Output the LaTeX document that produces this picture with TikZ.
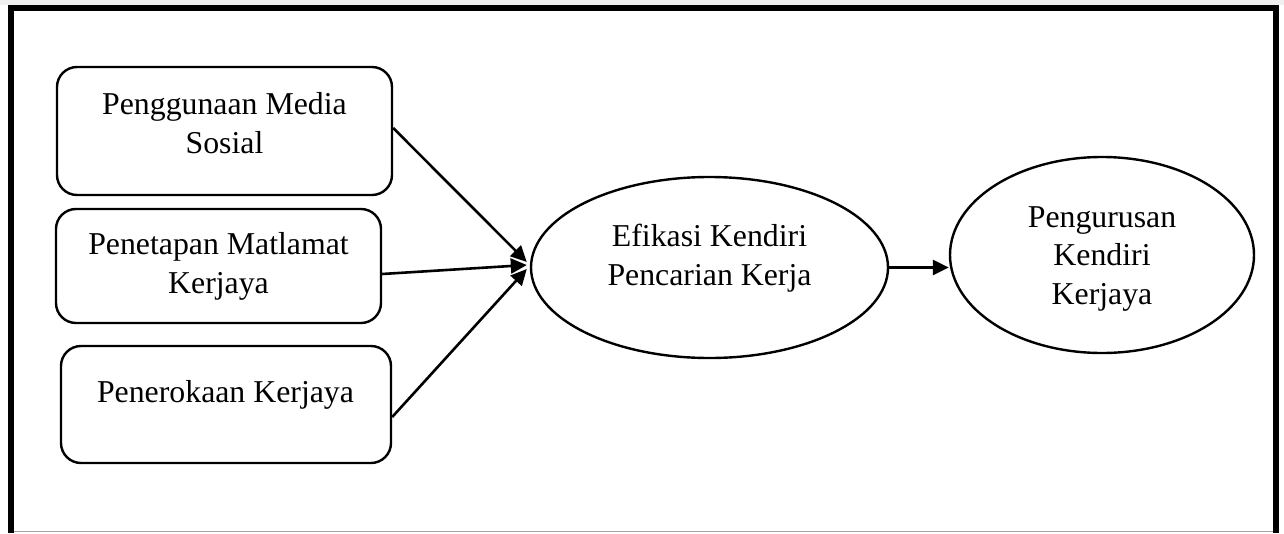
\documentclass[tikz,border=0pt]{standalone}
\usepackage{fontspec}
\setmainfont{Liberation Serif}
\usetikzlibrary{arrows.meta,shapes.geometric}
\begin{document}
\begin{tikzpicture}[x=1pt,y=-1pt,
  shp/.style={draw=black,line width=2.4pt,inner sep=0pt},
  boxshape/.style={shp,rectangle,rounded corners=20pt},
  ellshape/.style={shp,ellipse},
  lbl/.style={font=\fontsize{31.8}{38.5}\selectfont,align=center,inner sep=0pt},
  conn/.style={line width=2.6pt,-{Triangle[length=16pt,width=15pt]}},
]
\useasboundingbox (0,0) rectangle (1284,533);
\fill[gray!12] (0,0) rectangle (1284,4.5);
\draw[line width=6.5pt] (11,533) -- (11,7.75) -- (1276,7.75) -- (1276,533);
\draw[gray!70,line width=1pt] (14,531.5) -- (1273,531.5);

\node[boxshape,minimum width=335pt,minimum height=128pt] (b1) at (224.5,131) {};
\node[boxshape,minimum width=325pt,minimum height=114pt] (b2) at (218.5,266) {};
\node[boxshape,minimum width=330pt,minimum height=117pt] (b3) at (226,404.5) {};
\node[ellshape,minimum width=357pt,minimum height=181pt] (e1) at (709.5,267.5) {};
\node[ellshape,minimum width=304pt,minimum height=196pt] (e2) at (1102,255) {};

\node[lbl] (t1) at (224.5,126.5) {\strut Penggunaan Media\\\strut Sosial};
\node[lbl] (t2) at (218.5,266.5) {\strut Penetapan Matlamat\\\strut Kerjaya};
\node[lbl] (t3) at (225.5,395) {\strut Penerokaan Kerjaya};
\node[lbl] (t4) at (709.5,258.5) {\strut Efikasi Kendiri\\\strut Pencarian Kerja};
\node[lbl] (t5) at (1102,257.8) {\strut Pengurusan\\\strut Kendiri\\\strut Kerjaya};

\draw[conn] ([yshift=3pt]b1.east) -- ([shift={(-3pt,5.5pt)}]e1.west);
\draw[conn] ([yshift=-8pt]b2.east) -- ([shift={(-3pt,2.5pt)}]e1.west);
\draw[conn] ([yshift=-12.5pt]b3.east) -- ([shift={(-3pt,-1.5pt)}]e1.west);
\draw[conn] (e1.east) -- (e1.east -| e2.west);
\end{tikzpicture}
\end{document}
